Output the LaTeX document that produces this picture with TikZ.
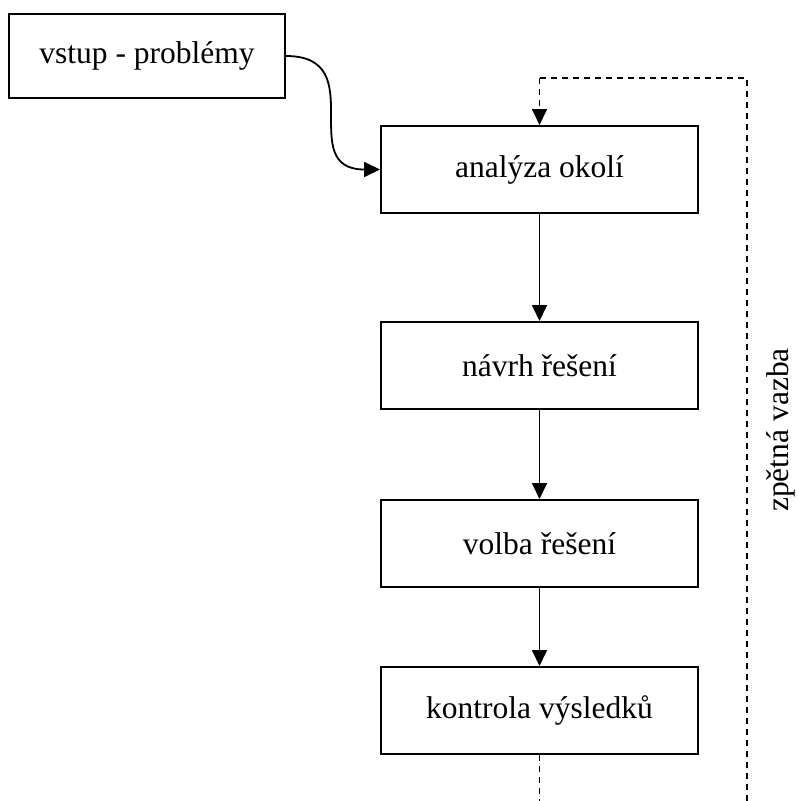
\documentclass[tikz,border=0pt]{standalone}
\usepackage{fontspec}
\setmainfont{Liberation Serif}
\usetikzlibrary{arrows.meta}
\begin{document}
\begin{tikzpicture}[x=1pt,y=-1pt,
  stepbox/.style={draw,line width=2pt,minimum width=317pt,minimum height=87pt,inner sep=0pt,font=\fontsize{31.5}{36}\selectfont},
  inbox/.style={draw,line width=2pt,minimum width=276pt,minimum height=84pt,inner sep=0pt,font=\fontsize{31.5}{36}\selectfont},
  tipst/.style={-{Triangle[length=16pt,width=15pt]}},
  conn/.style={line width=1.8pt,tipst},
  fb/.style={line width=1.8pt,dash pattern=on 6pt off 5pt}]
\useasboundingbox (0,0) rectangle (798,801);
\node[inbox] (v) at (147,56) {vstup - problémy};
\node[stepbox] (a) at (539.5,169.5) {analýza okolí};
\node[stepbox] (n) at (539.5,365.5) {návrh řešení};
\node[stepbox] (s) at (539.5,543.5) {volba řešení};
\node[stepbox] (k) at (539.5,710.5) {kontrola výsledků};
\coordinate (top) at (747,78);
\coordinate (fbR) at (747,801);
\coordinate (fbL) at (539.5,801);
\draw[conn] (v.east) .. controls +(86,0) and +(-86,0) .. (a.west);
\draw[conn] (a) -- (n);
\draw[conn] (n) -- (s);
\draw[conn] (s) -- (k);
\draw[fb] (k.south) -- (fbL);
\draw[fb] (fbR) -- (top) -- (a.north |- top);
\draw[fb,tipst] (a.north |- top) -- (a.north);
\node[rotate=90,font=\fontsize{31.5}{36}\selectfont] (z) at (781,430) {zpětná vazba};
\end{tikzpicture}
\end{document}
